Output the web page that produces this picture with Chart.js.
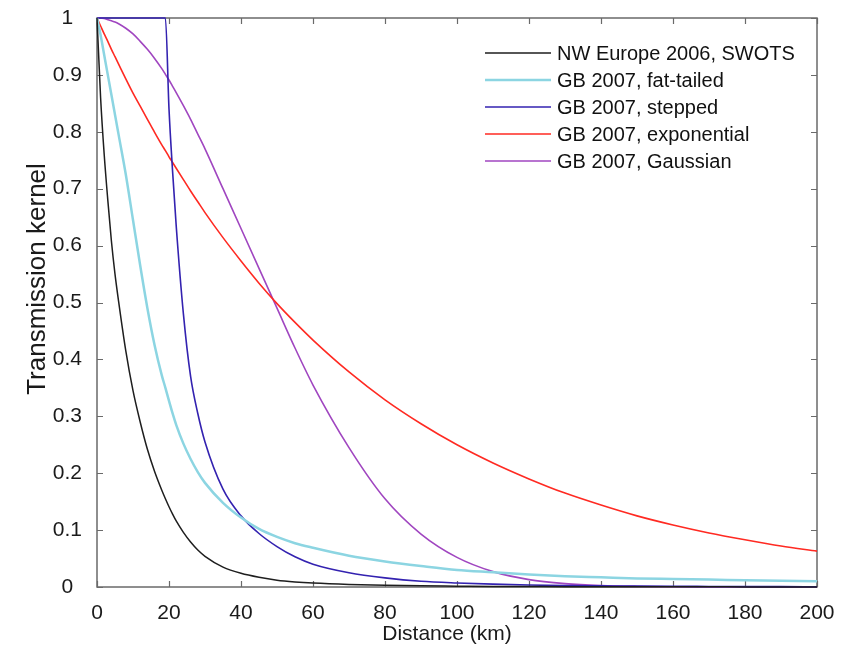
<!DOCTYPE html>
<html>
<head>
<meta charset="utf-8">
<script src="https://cdn.jsdelivr.net/npm/chart.js@4.4.1/dist/chart.umd.min.js"></script>
<style>
    html, body { margin: 0; padding: 0; background: #ffffff; }
    #kernelChart { display: block; }
</style>
</head>
<body>
<canvas id="kernelChart" width="856" height="655"></canvas>
<script>
(() => {
    // distance from infected premises (km)
    const distances = [
        0, 1, 2, 3, 4, 5, 6, 8, 10, 12, 14, 16, 18, 19, 20, 21, 22, 24, 26, 28,
        30, 35, 40, 45, 50, 55, 60, 70, 80, 90, 100, 110, 120, 130, 140, 150,
        160, 170, 180, 190, 200,
    ];

    const nwEurope = [
        1.0, 0.86, 0.76, 0.68, 0.608, 0.55, 0.502, 0.415, 0.345, 0.29, 0.242,
        0.203, 0.17, 0.155, 0.141, 0.128, 0.116, 0.096, 0.079, 0.065, 0.054,
        0.035, 0.024, 0.017, 0.012, 0.009, 0.007, 0.0045, 0.003, 0.002, 0.0015,
        0.001, 0.0008, 0.0006, 0.0005, 0.0004, 0.0003, 0.0003, 0.0002, 0.0002,
        0.0001,
    ];

    const fatTailed = [
        1.0, 0.97, 0.935, 0.9, 0.865, 0.83, 0.795, 0.725, 0.645, 0.565, 0.49,
        0.425, 0.372, 0.35, 0.327, 0.305, 0.285, 0.252, 0.225, 0.202, 0.183,
        0.148, 0.122, 0.102, 0.088, 0.077, 0.069, 0.055, 0.045, 0.037, 0.03,
        0.026, 0.022, 0.019, 0.017, 0.015, 0.014, 0.013, 0.012, 0.011, 0.01,
    ];

    const stepped = [
        1.0, 1.0, 1.0, 1.0, 1.0, 1.0, 1.0, 1.0, 1.0, 1.0, 1.0, 1.0, 1.0, 1.0,
        0.84, 0.73, 0.635, 0.48, 0.37, 0.305, 0.255, 0.172, 0.125, 0.094, 0.071,
        0.053, 0.04, 0.025, 0.016, 0.01, 0.007, 0.005, 0.0035, 0.0025, 0.002,
        0.0015, 0.0012, 0.001, 0.0008, 0.0006, 0.0005,
    ];

    const exponential = [
        1.0, 0.986, 0.972, 0.959, 0.945, 0.932, 0.919, 0.893, 0.868, 0.845,
        0.822, 0.799, 0.777, 0.767, 0.756, 0.746, 0.736, 0.716, 0.696, 0.677,
        0.658, 0.614, 0.573, 0.534, 0.498, 0.465, 0.434, 0.378, 0.329, 0.287,
        0.25, 0.218, 0.19, 0.165, 0.144, 0.125, 0.109, 0.095, 0.083, 0.072,
        0.063,
    ];

    const gaussian = [
        1.0, 1.0, 0.999, 0.997, 0.995, 0.993, 0.99, 0.982, 0.972, 0.959, 0.945,
        0.929, 0.911, 0.901, 0.891, 0.88, 0.869, 0.846, 0.822, 0.796, 0.77, 0.7,
        0.63, 0.56, 0.49, 0.42, 0.355, 0.245, 0.155, 0.093, 0.052, 0.027, 0.013,
        0.006, 0.0025, 0.001, 0.0004, 0.0001, 0, 0, 0,
    ];

    const seriesNames = [
        "NW Europe 2006, SWOTS",
        "GB 2007, fat-tailed",
        "GB 2007, stepped",
        "GB 2007, exponential",
        "GB 2007, Gaussian",
    ];
    const seriesColors = ["#1e1e1e", "#8cd5e2", "#3322b0", "#ff2a22", "#a046c0"];
    const seriesWidths = [1.5, 2.5, 1.6, 1.6, 1.6];

    const xTicks = [0, 20, 40, 60, 80, 100, 120, 140, 160, 180, 200];
    const yTickLabels = ["0", "0.1", "0.2", "0.3", "0.4", "0.5", "0.6", "0.7", "0.8", "0.9", "1"];

    const xTitle = "Distance (km)";
    const yTitle = "Transmission kernel";

    const FONT = "'Liberation Sans', Arial, Helvetica, sans-serif";
    const AXIS_COLOR = "#6a6a6a";
    const TEXT_COLOR = "#1a1a1a";

    const toPoints = (values) => values.map((v, i) => ({ x: distances[i], y: v }));
    const seriesValues = [nwEurope, fatTailed, stepped, exponential, gaussian];

    // box around the plot with inward ticks, like the old matlab look
    const boxPlugin = {
        id: "boxPlugin",
        beforeDatasetsDraw(chart) {
            const { ctx, chartArea: a, scales } = chart;
            const len = 6;
            ctx.save();
            ctx.strokeStyle = AXIS_COLOR;
            ctx.lineWidth = 1.5;
            ctx.strokeRect(a.left, a.top, a.right - a.left, a.bottom - a.top);
            ctx.lineWidth = 1.2;
            ctx.beginPath();
            xTicks.forEach((t) => {
                const px = Math.round(scales.x.getPixelForValue(t)) + 0.5;
                ctx.moveTo(px, a.bottom);
                ctx.lineTo(px, a.bottom - len);
                ctx.moveTo(px, a.top);
                ctx.lineTo(px, a.top + len);
            });
            yTickLabels.forEach((_, i) => {
                const py = Math.round(scales.y.getPixelForValue(i / 10)) + 0.5;
                ctx.moveTo(a.left, py);
                ctx.lineTo(a.left + len, py);
                ctx.moveTo(a.right, py);
                ctx.lineTo(a.right - len, py);
            });
            ctx.stroke();
            ctx.restore();
        },
        afterDraw(chart) {
            const { ctx } = chart;

            // axis titles
            ctx.save();
            ctx.fillStyle = TEXT_COLOR;
            ctx.textAlign = "center";
            ctx.textBaseline = "middle";
            ctx.font = "21px " + FONT;
            ctx.fillText(xTitle, 447, 634);
            ctx.translate(38, 279);
            ctx.rotate(-Math.PI / 2);
            ctx.font = "26px " + FONT;
            ctx.fillText(yTitle, 0, 0);
            ctx.restore();

            // legend in the upper right, no frame
            const rows = [53, 80, 107, 134, 161];
            ctx.save();
            ctx.font = "20px " + FONT;
            ctx.textBaseline = "middle";
            ctx.textAlign = "left";
            seriesNames.forEach((name, i) => {
                ctx.strokeStyle = seriesColors[i];
                ctx.lineWidth = seriesWidths[i];
                ctx.beginPath();
                ctx.moveTo(485, rows[i]);
                ctx.lineTo(551, rows[i]);
                ctx.stroke();
                ctx.fillStyle = "#111111";
                ctx.fillText(name, 557, rows[i] + 1);
            });
            ctx.restore();
        },
    };

    const initChart = () => {
        const ctx = document.getElementById("kernelChart").getContext("2d");

        new Chart(ctx, {
            type: "line",
            data: {
                datasets: seriesNames.map((name, i) => ({
                    label: name,
                    data: toPoints(seriesValues[i]),
                    borderColor: seriesColors[i],
                    borderWidth: seriesWidths[i],
                    pointRadius: 0,
                    fill: false,
                    cubicInterpolationMode: "monotone",
                    clip: false,
                })),
            },
            options: {
                responsive: false,
                animation: false,
                layout: { padding: { top: 18, right: 39, left: 0, bottom: 0 } },
                plugins: {
                    legend: { display: false },
                    tooltip: { enabled: false },
                },
                scales: {
                    x: {
                        type: "linear",
                        min: 0,
                        max: 200,
                        afterBuildTicks: (scale) => {
                            scale.ticks = xTicks.map((v) => ({ value: v }));
                        },
                        afterFit: (scale) => {
                            scale.height = 68;
                            scale.paddingLeft = 0;
                            scale.paddingRight = 0;
                        },
                        grid: { display: false, drawTicks: false },
                        border: { display: false },
                        ticks: {
                            padding: 14,
                            color: TEXT_COLOR,
                            maxRotation: 0,
                            font: { family: FONT, size: 21 },
                        },
                    },
                    y: {
                        type: "linear",
                        min: 0,
                        max: 1,
                        afterBuildTicks: (scale) => {
                            scale.ticks = yTickLabels.map((_, i) => ({ value: i / 10 }));
                        },
                        afterFit: (scale) => {
                            scale.width = 97;
                            scale.paddingTop = 0;
                            scale.paddingBottom = 0;
                        },
                        grid: { display: false, drawTicks: false },
                        border: { display: false },
                        ticks: {
                            padding: 15,
                            crossAlign: "center",
                            color: TEXT_COLOR,
                            font: { family: FONT, size: 21 },
                            callback: (value, index) => yTickLabels[index],
                        },
                    },
                },
            },
            plugins: [boxPlugin],
        });
    };

    document.addEventListener("DOMContentLoaded", initChart);
})();
</script>
</body>
</html>
